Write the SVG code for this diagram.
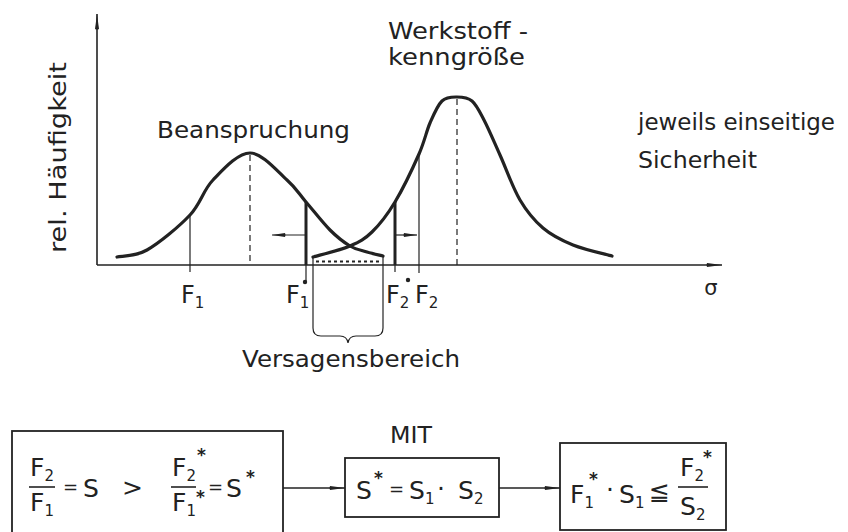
<svg xmlns="http://www.w3.org/2000/svg" width="848" height="532" viewBox="0 0 848 532">
<style>
text{font-family:"DejaVu Sans","Liberation Sans",sans-serif;fill:#222;}
.lbl{font-size:23px;}
.f{font-size:25px;}
.sub{font-size:15px;}
.eq{font-size:18px;}
.st{font-size:17px;font-weight:bold;}
.thin{stroke:#222;stroke-width:1.2;fill:none;}
.ax{stroke:#222;stroke-width:1.6;fill:none;}
.cur{stroke:#222;stroke-width:3.2;fill:none;stroke-linecap:round;}
.bar{stroke:#222;stroke-width:3;fill:none;}
.dash{stroke:#222;stroke-width:1.2;fill:none;stroke-dasharray:6,4;}
.box{stroke:#222;stroke-width:1.8;fill:none;}
.conn{stroke:#222;stroke-width:1.6;fill:none;}
</style>
<defs>
<marker id="ah" markerUnits="userSpaceOnUse" markerWidth="16" markerHeight="8" viewBox="0 0 16 8" refX="16" refY="4" orient="auto">
<path d="M1,2 Q0,4 1,6 L16,4 Z" fill="#222"/>
</marker>
<marker id="ahs" markerUnits="userSpaceOnUse" markerWidth="14" markerHeight="7" viewBox="0 0 14 7" refX="14" refY="3.5" orient="auto">
<path d="M1,1.5 Q0,3.5 1,5.5 L14,3.5 Z" fill="#222"/>
</marker>
</defs>

<g id="axes">
<line class="ax" x1="97" y1="265" x2="97" y2="14" marker-end="url(#ah)"/>
<line class="ax" x1="97" y1="265" x2="722" y2="265" marker-end="url(#ah)"/>
<text class="lbl" transform="translate(66,253) rotate(-90)" textLength="191" lengthAdjust="spacingAndGlyphs">rel. Häufigkeit</text>
<text x="711" y="295" font-size="21" text-anchor="middle">σ</text>
</g>

<g id="beanspruchung">
<path class="cur" d="M117,257 C122,255.8 134.8,257 147,250 C159.2,243 179,226.7 190,215 C201,203.3 203,190.3 213,180 C223,169.7 237.7,153 250,153 C262.3,153 277.7,171.8 287,180 C296.3,188.2 298.8,193.7 306,202 C313.2,210.3 322.7,222.7 330,230 C337.3,237.3 343.8,242.3 350,246 C356.2,249.7 361.5,250.3 367,252 C372.5,253.7 380.3,255.3 383,256"/>
<line class="dash" x1="250" y1="155" x2="250" y2="265"/>
<line class="thin" x1="190" y1="215" x2="190" y2="272"/>
<line class="bar" x1="306" y1="202" x2="306" y2="265"/>
<line class="thin" x1="306" y1="265" x2="306" y2="281"/>
<line class="thin" x1="306" y1="235" x2="272" y2="235" stroke-width="1.5" marker-end="url(#ahs)"/>
<text class="lbl" x="157" y="138" textLength="193" lengthAdjust="spacingAndGlyphs">Beanspruchung</text>
</g>

<g id="werkstoff">
<path class="cur" d="M313,257 C319.2,255.2 340.2,250.2 350,246 C359.8,241.8 364.5,239.3 372,232 C379.5,224.7 387.2,215 395,202 C402.8,189 413.2,167.2 419,154 C424.8,140.8 426.2,131.8 430,123 C433.8,114.2 437.5,105.3 442,101 C446.5,96.7 452,97 457,97 C462,97 467.5,97.2 472,101 C476.5,104.8 479.3,111 484,120 C488.7,129 494,141.7 500,155 C506,168.3 512.8,187.8 520,200 C527.2,212.2 534.2,220.5 543,228 C551.8,235.5 561.5,240.3 573,245 C584.5,249.7 605.5,254.2 612,256"/>
<line class="dash" x1="457" y1="99" x2="457" y2="265"/>
<line class="thin" x1="419" y1="154" x2="419" y2="273"/>
<line class="bar" x1="395" y1="202" x2="395" y2="265"/>
<line class="thin" x1="395" y1="265" x2="395" y2="272"/>
<line class="thin" x1="395" y1="235" x2="417" y2="235" stroke-width="1.5" marker-end="url(#ahs)"/>
<text class="lbl" x="388" y="39" font-size="24" textLength="140" lengthAdjust="spacingAndGlyphs">Werkstoff -</text>
<text class="lbl" x="388" y="65" font-size="24" textLength="137" lengthAdjust="spacingAndGlyphs">kenngröße</text>
</g>

<g id="versagensbereich">
<line x1="316" y1="261.5" x2="381" y2="261.5" stroke="#222" stroke-width="2" stroke-dasharray="3,3"/>
<line class="thin" x1="313" y1="257" x2="313" y2="328"/>
<line class="thin" x1="383" y1="256" x2="383" y2="328"/>
<path class="thin" d="M313,328 Q313,336 321,336 L340,336 Q347,336 348,343 Q349,336 356,336 L375,336 Q383,336 383,328"/>
<text class="lbl" x="242" y="367" font-size="24" textLength="218" lengthAdjust="spacingAndGlyphs">Versagensbereich</text>
</g>

<g id="ticklabels">
<text x="181" y="303" font-size="24">F<tspan font-size="15" dy="5">1</tspan></text>
<text x="286" y="303" font-size="24">F<tspan font-size="15" dy="5">1</tspan></text>
<circle cx="305" cy="282" r="2.2" fill="#222"/>
<text x="386" y="303" font-size="24">F<tspan font-size="15" dy="5">2</tspan></text>
<circle cx="408" cy="280" r="2.2" fill="#222"/>
<text x="415" y="303" font-size="24">F<tspan font-size="15" dy="5">2</tspan></text>
</g>

<g id="note">
<text class="lbl" x="638" y="130" font-size="22" textLength="197" lengthAdjust="spacingAndGlyphs">jeweils einseitige</text>
<text class="lbl" x="638" y="168" font-size="22" textLength="119" lengthAdjust="spacingAndGlyphs">Sicherheit</text>
</g>

<g id="connectors">
<line class="conn" x1="283" y1="488" x2="345" y2="488" marker-end="url(#ah)"/>
<line class="conn" x1="499" y1="488" x2="560" y2="488" marker-end="url(#ah)"/>
</g>

<g id="box1">
<rect class="box" x="12" y="431" width="271" height="120"/>
<text class="f" x="30" y="476">F<tspan class="sub" dy="5">2</tspan></text>
<line class="conn" x1="29" y1="487" x2="55" y2="487"/>
<text class="f" x="30" y="511">F<tspan class="sub" dy="5">1</tspan></text>
<text class="eq" x="63" y="493">=</text>
<text class="f" x="83" y="497" font-size="27">S</text>
<text class="f" x="122" y="496">&gt;</text>
<text class="f" x="172" y="476">F<tspan class="sub" dy="5">2</tspan></text>
<text class="st" x="197" y="461">*</text>
<line class="conn" x1="171" y1="487" x2="196" y2="487"/>
<text class="f" x="172" y="511">F<tspan class="sub" dy="5">1</tspan></text>
<text class="st" x="196" y="503">*</text>
<text class="eq" x="208" y="493">=</text>
<text class="f" x="226" y="497" font-size="27">S</text>
<text class="st" x="246" y="483">*</text>
</g>

<g id="box2">
<text class="lbl" x="390" y="443" font-size="22" textLength="42" lengthAdjust="spacingAndGlyphs">MIT</text>
<rect class="box" x="345" y="458" width="154" height="59"/>
<text class="f" x="356" y="499" font-size="27">S</text>
<text class="st" x="374" y="484">*</text>
<text class="eq" x="389" y="495">=</text>
<text class="f" x="409" y="499" font-size="27">S<tspan class="sub" dy="5">1</tspan></text>
<text class="f" x="437" y="497">·</text>
<text class="f" x="458" y="499" font-size="27">S<tspan class="sub" dy="5">2</tspan></text>
</g>

<g id="box3">
<rect class="box" x="560" y="443" width="166" height="87"/>
<text class="f" x="570" y="503">F<tspan class="sub" dy="5">1</tspan></text>
<text class="st" x="589" y="485">*</text>
<text class="f" x="606" y="498">·</text>
<text class="f" x="619" y="503">S<tspan class="sub" dy="5">1</tspan></text>
<text class="f" x="649" y="500" font-size="23">≦</text>
<text class="f" x="680" y="476">F<tspan class="sub" dy="5">2</tspan></text>
<text class="st" x="703" y="463">*</text>
<line class="conn" x1="678" y1="487" x2="708" y2="487"/>
<text class="f" x="680" y="515">S<tspan class="sub" dy="5">2</tspan></text>
</g>
</svg>
